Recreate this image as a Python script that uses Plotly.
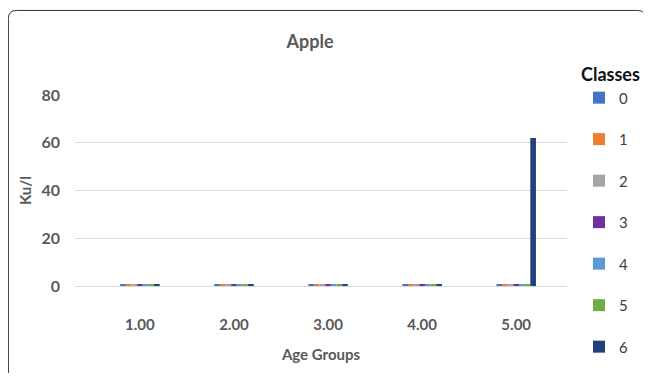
import plotly.graph_objects as go

# Data
age_groups = ["1.00", "2.00", "3.00", "4.00", "5.00"]
classes = ["0", "1", "2", "3", "4", "5", "6"]
values = {
    "0": [0.6, 0.6, 0.6, 0.6, 0.6],
    "1": [0.6, 0.6, 0.6, 0.6, 0.6],
    "2": [0.6, 0.6, 0.6, 0.6, 0.6],
    "3": [0.6, 0.6, 0.6, 0.6, 0.6],
    "4": [0.8, 0.8, 0.8, 0.8, 0.8],
    "5": [0.8, 0.8, 0.8, 0.8, 0.8],
    "6": [0.8, 0.8, 0.8, 0.8, 62],
}
colors = ["#4472C4", "#ED7D31", "#A5A5A5", "#7030A0", "#5B9BD5", "#70AD47", "#22407A"]

fig = go.Figure()
for i, c in enumerate(classes):
    fig.add_trace(go.Bar(
        x=age_groups,
        y=values[c],
        name=c,
        legendgroup=c,
        marker=dict(color=colors[i], line=dict(width=0)),
    ))

# the page body has an 8px margin all round, so the figure is kept 16px smaller
# than the window (no scrollbars) and window positions are taken minus 8
FW, FH = 635, 365
W, H = 495.0, 192.0          # plot area size in px
PX0, PY0 = 75, 95            # plot area top-left in window px

# card border with rounded corners, in paper units
x0, x1 = (8 - PX0) / W, (649 - PX0) / W
y0, y1 = -(400 - (PY0 + H)) / H, 1 + (PY0 - 10) / H
rx, ry = 8 / W, 8 / H
path = (f"M {x0 + rx} {y1} L {x1 - rx} {y1} Q {x1} {y1} {x1} {y1 - ry} "
        f"L {x1} {y0} L {x0} {y0} L {x0} {y1 - ry} Q {x0} {y1} {x0 + rx} {y1} Z")
fig.add_shape(type="path", path=path, xref="paper", yref="paper",
              line=dict(color="#333333", width=1), layer="below")

fig.update_layout(
    width=FW, height=FH,
    margin=dict(l=PX0 - 8, r=FW - (PX0 - 8) - int(W), t=PY0 - 8, b=FH - (PY0 - 8) - int(H)),
    paper_bgcolor="white", plot_bgcolor="white",
    font=dict(family="Lato, Open Sans, sans-serif", color="#595959"),
    title=dict(text="<b>Apple</b>", x=(310 - 8) / FW, xanchor="center", y=1 - 34 / FH, yanchor="middle",
               font=dict(size=18, color="#595959")),
    barmode="group", bargap=0.58, bargroupgap=0,
    showlegend=True,
    legend=dict(
        title=dict(text="<b>Classes</b>", side="top", font=dict(size=18, color="#111111")),
        xref="container", yref="container",
        x=(579 - 8) / FW, xanchor="left", y=1 - (58 - 8) / FH, yanchor="top",
        font=dict(size=15, color="#404040"),
        tracegroupgap=19,
        itemwidth=30,
        maxheight=340,
        bgcolor="rgba(0,0,0,0)",
    ),
    xaxis=dict(
        range=[-0.69, 4.54],
        tickvals=age_groups, ticktext=[f"<b>{a}</b>" for a in age_groups],
        showgrid=False, showline=False, zeroline=False,
        ticks="", ticklabelstandoff=28,
        tickfont=dict(size=15, color="#595959"),
        title=dict(text="<b>Age Groups</b>", font=dict(size=15, color="#595959"), standoff=17),
    ),
    yaxis=dict(
        range=[0, 80], dtick=20,
        showgrid=True, gridcolor="#D9D9D9", gridwidth=1,
        zeroline=True, zerolinecolor="#D9D9D9", zerolinewidth=1,
        showline=False, ticks="", ticklabelstandoff=14,
        tickfont=dict(size=16, color="#595959"),
        tickprefix="<b>", ticksuffix="</b>",
        title=dict(text="<b>Ku/l</b>", font=dict(size=15, color="#595959"), standoff=6),
    ),
)

fig.write_html("out.html")
